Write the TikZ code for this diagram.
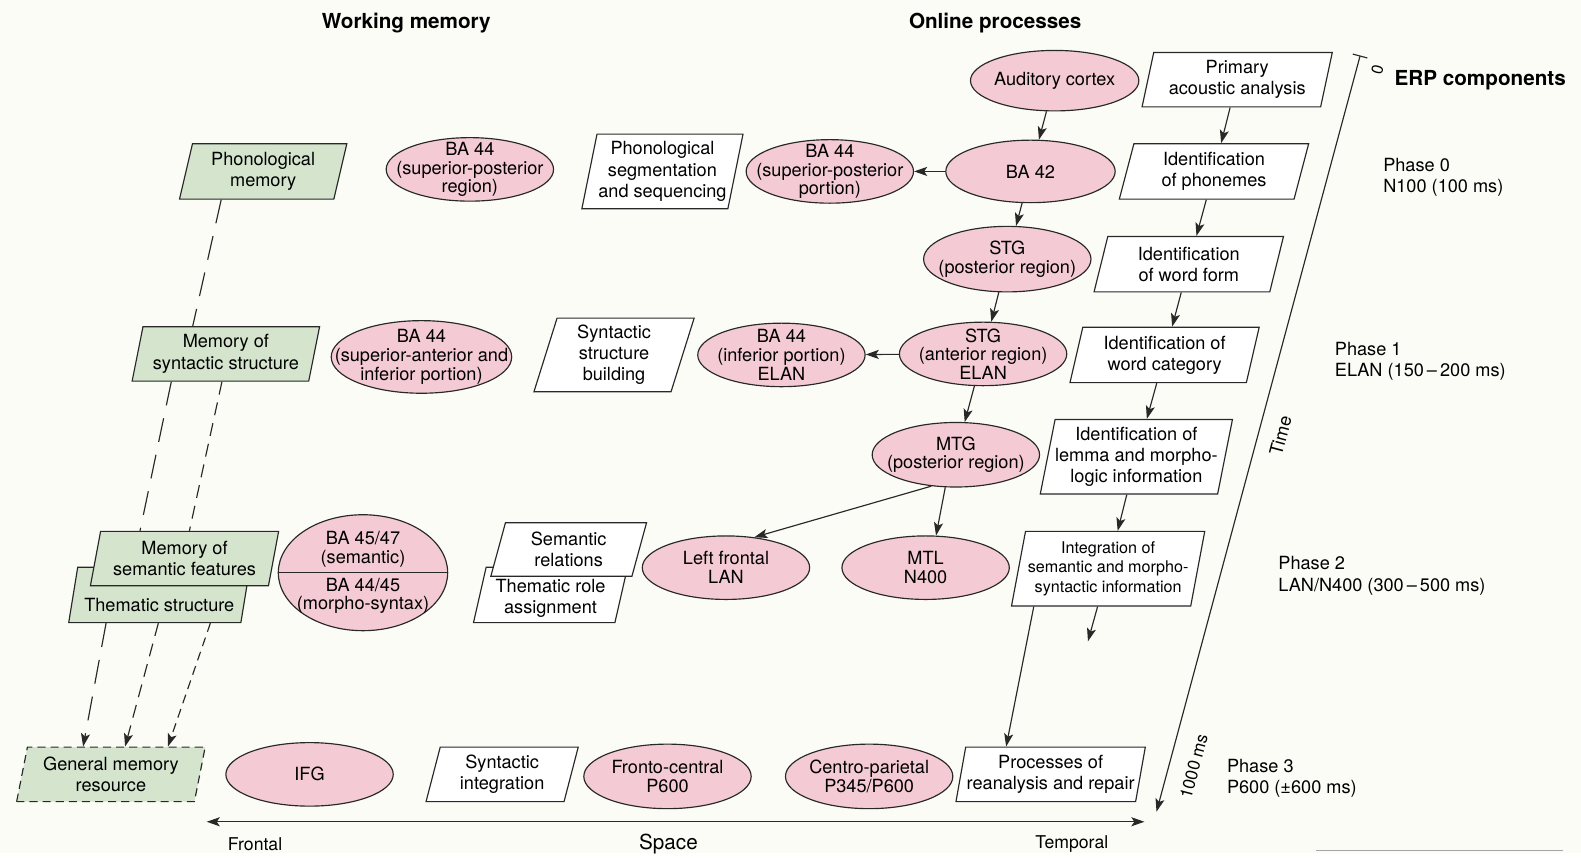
\documentclass[tikz,border=0pt]{standalone}
\usepackage{fontspec}
\setmainfont{TeX Gyre Heros}
\usetikzlibrary{shapes.geometric,arrows.meta}
\definecolor{paper}{RGB}{252,252,247}
\definecolor{brainpink}{RGB}{244,202,213}
\definecolor{memgreen}{RGB}{212,228,205}
\definecolor{edge}{RGB}{40,40,40}

\begin{document}
\begin{tikzpicture}[x=1pt,y=-1pt,
	font=\fontsize{18}{21}\selectfont,
	line width=1.15pt,
	>={Stealth[length=13pt,width=9pt,inset=3pt]},
	region/.style={ellipse,draw=edge,fill=brainpink,inner xsep=-35pt,inner ysep=-18pt,
		minimum width=166pt,minimum height=63pt,align=center,
		font=\fontsize{18}{18.5}\selectfont},
	stage/.style={trapezium,trapezium left angle=76,trapezium right angle=104,
		trapezium stretches=true,draw=edge,fill=white,inner sep=0pt,
		align=center,minimum width=188pt,minimum height=55pt},
	memory/.style={stage,fill=memgreen},
	title/.style={font=\fontsize{20.5}{24}\selectfont\bfseries},
	phase/.style={anchor=west,align=left},
	flow/.style={->,draw=edge},
	longdash/.style={draw=edge,dash pattern=on 24pt off 13pt},
	middash/.style={draw=edge,dash pattern=on 13pt off 8pt},
	shortdash/.style={draw=edge,dash pattern=on 9pt off 6pt}]
	\fill[paper] (0,0) rectangle (1568,846);

	% headings
	\node[title] (wmtitle) at (403,23) {Working memory};
	\node[title] (optitle) at (987,23) {Online processes};
	\node[title] (erptitle) at (1468,80) {ERP components};

	% online processes: brain regions
	\node[region,minimum width=167pt,minimum height=60pt] (aud) at (1046,80) {Auditory cortex};
	\node[region,minimum width=168pt,minimum height=62pt] (ba42) at (1022,170) {BA 42};
	\node[region] (ba44sp) at (823,170) {BA 44\\(superior-posterior\\portion)};
	\node[region,minimum height=65pt] (stgp) at (999,257) {STG\\(posterior region)};
	\node[region] (stga) at (975,351) {STG\\(anterior region)\\ELAN};
	\node[region] (ba44inf) at (775,352) {BA 44\\(inferior portion)\\ELAN};
	\node[region,minimum height=64pt] (mtg) at (948,451) {MTG\\(posterior region)};
	\node[region] (lfl) at (720,563) {Left frontal\\LAN};
	\node[region] (mtl) at (918,563) {MTL\\N400};
	\node[region,minimum height=64pt] (cpp) at (862,770) {Centro-parietal\\P345/P600};
	\node[region,minimum height=64pt] (fcp) at (662,770) {Fronto-central\\P600};

	% online processes: stages
	\node[stage,minimum width=189pt,minimum height=54pt] (prim) at (1227,79) {Primary\\acoustic analysis};
	\node[stage] (phonemes) at (1204,170) {Identification\\of phonemes};
	\node[stage] (wform) at (1179,262) {Identification\\of word form};
	\node[stage] (wcat) at (1155,352) {Identification of\\word category};
	\node[stage,minimum width=191pt,minimum height=74pt] (lemma) at (1127,453) {Identification of\\lemma and morpho-\\logic information};
	\node[stage,minimum width=192pt,minimum height=74pt,font=\fontsize{16}{19.5}\selectfont] (integ) at (1099,564) {Integration of\\semantic and morpho-\\syntactic information};
	\node[stage,minimum height=54pt] (repair) at (1042,768) {Processes of\\reanalysis and repair};
	\node[stage,minimum width=160pt,minimum height=74pt] (segm) at (657,170) {Phonological\\segmentation\\and sequencing};
	\node[stage,minimum width=159pt,minimum height=73pt] (synbld) at (609,352) {Syntactic\\structure\\building};
	\node[stage,minimum width=153pt,text height=40pt,text depth=3pt] (throle) at (546,590) {Thematic role\\assignment};
	\node[stage,minimum width=155pt,minimum height=53pt] (semrel) at (564,545) {Semantic\\relations};
	\node[stage,minimum width=151pt,minimum height=54pt] (synint) at (498,768) {Syntactic\\integration};

	% working memory
	\node[region] (ba44sr) at (466,168) {BA 44\\(superior-posterior\\region)};
	\node[region,minimum width=179pt,minimum height=72pt] (ba44sa) at (418,354) {BA 44\\(superior-anterior and\\inferior portion)};
	\node[region,minimum width=168pt,minimum height=115pt,inner ysep=-40pt] (ba4547) at (360,568) {BA 45/47\\(semantic)\\[9pt]BA 44/45\\(morpho-syntax)};
	\draw[edge] (ba4547.west) -- (ba4547.east);
	\node[region] (ifg) at (307,768) {IFG};
	\node[memory,minimum width=166pt] (phonmem) at (261,170) {Phonological\\memory};
	\node[memory,minimum width=186pt,minimum height=54pt] (synmem) at (224,351) {Memory of\\syntactic structure};
	\node[memory,minimum width=180pt,text height=33pt,text depth=0pt] (thstruct) at (158,590) {Thematic structure};
	\node[memory,minimum width=187pt,minimum height=54pt] (semfeat) at (183,554) {Memory of\\semantic features};
	\node[memory,minimum width=187pt,minimum height=54pt,dash pattern=on 8pt off 5pt] (genmem) at (110,768) {General memory\\resource};

	% processing flow
	\draw[flow] (aud) -- (ba42);
	\draw[flow] (prim) -- (phonemes);
	\draw[flow] (ba42) -- (ba44sp);
	\draw[flow] (ba42) -- (stgp);
	\draw[flow] (phonemes) -- (wform);
	\draw[flow] (stgp) -- (stga);
	\draw[flow] (wform) -- (wcat);
	\draw[flow] (stga) -- (ba44inf);
	\draw[flow] (stga) -- (mtg);
	\draw[flow] (wcat) -- (lemma);
	\draw[flow] (mtg.232) -- (lfl.47);
	\draw[flow] (mtg.252) -- (mtl.72);
	\draw[flow] (lemma) -- (integ);
	\coordinate (intend) at (1079,636);
	\draw[flow] (integ) -- (intend);
	\draw[flow] (integ.207) -- (repair.148);

	% memory links
	\draw[longdash] (phonmem.214) -- (synmem.140);
	\draw[longdash] (synmem.207) -- (semfeat.148);
	\draw[middash] (synmem.262) -- (semfeat.80);
	\draw[longdash,->] (thstruct.208) -- (genmem.135);
	\draw[middash,->] (thstruct.268) -- (genmem.63);
	\draw[shortdash,->] (thstruct.331) -- (genmem.26);

	% space axis
	\coordinate (spl) at (205,815);
	\coordinate (spr) at (1135,815);
	\draw[<->,draw=edge] (spl) -- (spr);
	\node[font=\fontsize{17.5}{20}\selectfont] (frontal) at (253,837) {Frontal};
	\node[font=\fontsize{20.5}{24}\selectfont] (space) at (663,837) {Space};
	\node[font=\fontsize{17.5}{20}\selectfont] (temporal) at (1063,837) {Temporal};

	% time axis
	\coordinate (t0) at (1349,55);
	\coordinate (t1) at (1147,805);
	\draw[draw=edge,{Bar[width=15pt]}->] (t0) -- (t1);
	\node[rotate=75,font=\fontsize{16}{18}\selectfont] (tzero) at (1366,69) {0};
	\node[rotate=75] (time) at (1270,432) {Time};
	\node[rotate=75,font=\fontsize{17}{19}\selectfont] (tend) at (1184,760) {1000 ms};

	% phases
	\node[phase] (ph0) at (1368,176) {Phase 0\\N100 (100 ms)};
	\node[phase] (ph1) at (1320,358) {Phase 1\\ELAN (150\,–\,200 ms)};
	\node[phase] (ph2) at (1264,571) {Phase 2\\LAN/N400 (300\,–\,500 ms)};
	\node[phase] (ph3) at (1213,772) {Phase 3\\P600 (±600 ms)};

	\draw[gray!70,line width=0.8pt] (1305,843) -- (1550,843);
\end{tikzpicture}
\end{document}
